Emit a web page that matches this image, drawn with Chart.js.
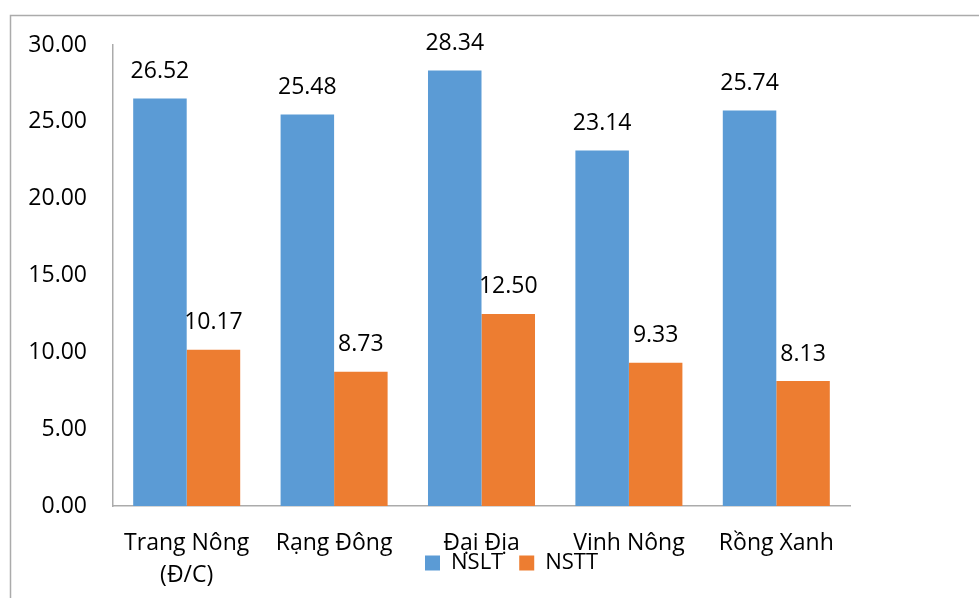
<!DOCTYPE html>
<html>
<head>
<meta charset="utf-8">
<script src="https://cdn.jsdelivr.net/npm/chart.js@4"></script>
<style>
  html, body { margin: 0; padding: 0; background: #ffffff; }
  #wrap { width: 979px; height: 598px; position: relative; }
</style>
</head>
<body>
<div id="wrap"><canvas id="chart" width="979" height="598"></canvas></div>
<script>
// Yield by variety: NSLT (theoretical) and NSTT (actual)
const categories = [['Trang Nông', '(Đ/C)'], 'Rạng Đông', 'Đại Địa', 'Vinh Nông', 'Rồng Xanh'];
const seriesNames = ['NSLT', 'NSTT'];
const nsltValues = [26.52, 25.48, 28.34, 23.14, 25.74];
const nsttValues = [10.17, 8.73, 12.50, 9.33, 8.13];
const yTicks = [0, 5, 10, 15, 20, 25, 30];

const FONT = '"Open Sans", "DejaVu Sans", sans-serif';
const TEXT = '#000000';
const LINE = '#ababab';
const LEGEND_PAD = 16;

// Outer frame (left and top edges of the chart border)
const framePlugin = {
  id: 'frame',
  beforeDraw(chart) {
    const ctx = chart.ctx;
    ctx.save();
    ctx.strokeStyle = LINE;
    ctx.lineWidth = 1.5;
    ctx.beginPath();
    ctx.moveTo(10.5, chart.height);
    ctx.lineTo(10.5, 15.5);
    ctx.lineTo(chart.width, 15.5);
    ctx.stroke();
    ctx.restore();
  }
};

// Value labels above each bar
const valueLabels = {
  id: 'valueLabels',
  afterDatasetsDraw(chart) {
    const ctx = chart.ctx;
    ctx.save();
    ctx.font = '23px ' + FONT;
    ctx.fillStyle = TEXT;
    ctx.textAlign = 'center';
    ctx.textBaseline = 'middle';
    chart.data.datasets.forEach((ds, di) => {
      const meta = chart.getDatasetMeta(di);
      meta.data.forEach((bar, i) => {
        ctx.fillText(ds.data[i].toFixed(2), bar.x, bar.y - 27);
      });
    });
    ctx.restore();
  }
};

// The legend overlaps the category names: the x axis reserves little room,
// so let its labels draw past that box, and move the legend to the right.
const legendPlace = {
  id: 'legendPlace',
  afterLayout(chart) {
    chart.scales.x.bottom = chart.height;
    const lg = chart.legend;
    const w = lg.right - lg.left;
    lg.left = 425 - LEGEND_PAD;
    lg.right = lg.left + w;
  }
};

new Chart(document.getElementById('chart'), {
  type: 'bar',
  data: {
    labels: categories,
    datasets: [
      { label: seriesNames[0], data: nsltValues, backgroundColor: '#5b9bd5', borderWidth: 0 },
      { label: seriesNames[1], data: nsttValues, backgroundColor: '#ed7d31', borderWidth: 0 }
    ]
  },
  options: {
    responsive: false,
    animation: false,
    devicePixelRatio: 1,
    layout: { padding: { left: 28, right: 129, top: 45, bottom: 14 } },
    datasets: { bar: { categoryPercentage: 0.726, barPercentage: 1.0 } },
    plugins: {
      legend: {
        position: 'bottom',
        align: 'start',
        labels: {
          font: { family: FONT, size: 22 },
          color: TEXT,
          boxWidth: 15,
          boxHeight: 15,
          padding: LEGEND_PAD
        }
      },
      tooltip: { enabled: false }
    },
    scales: {
      x: {
        grid: { display: false, drawTicks: false },
        border: { display: true, color: LINE, width: 1.5 },
        ticks: {
          font: { family: FONT, size: 23, lineHeight: 1.38 },
          color: TEXT,
          padding: 22,
          maxRotation: 0,
          autoSkip: false
        },
        afterFit(scale) { scale.height = 30; }
      },
      y: {
        min: 0,
        max: 30,
        grid: { display: false, drawTicks: false },
        border: { display: true, color: LINE, width: 1.5 },
        afterBuildTicks(scale) { scale.ticks = yTicks.map(v => ({ value: v })); },
        afterFit(scale) { scale.width = 85; },
        ticks: {
          font: { family: FONT, size: 23 },
          color: TEXT,
          padding: 26,
          callback: v => Number(v).toFixed(2)
        }
      }
    }
  },
  plugins: [framePlugin, valueLabels, legendPlace]
});
</script>
</body>
</html>
